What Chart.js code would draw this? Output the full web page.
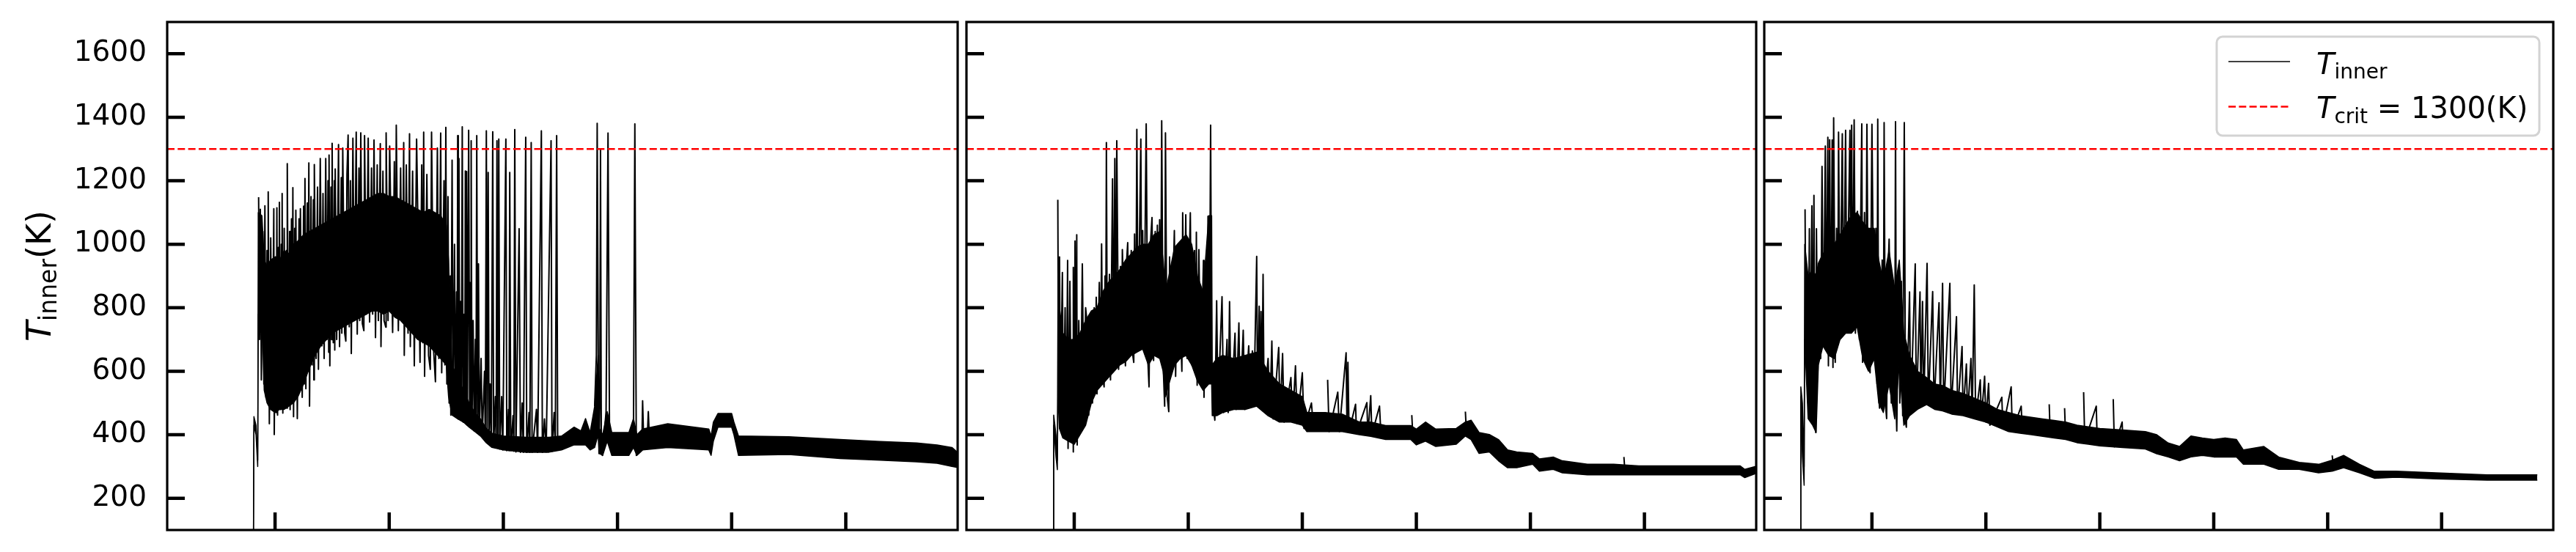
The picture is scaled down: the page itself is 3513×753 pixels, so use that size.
<!DOCTYPE html>
<html>
<head>
<meta charset="utf-8">
<script src="https://cdn.jsdelivr.net/npm/chart.js@4/dist/chart.umd.min.js"></script>
<style>
html, body { margin: 0; padding: 0; background: #fff; }
body { width: 3513px; height: 753px; position: relative; overflow: hidden; }
canvas { position: absolute; top: 0; }
</style>
</head>
<body>
<canvas id="c1" width="1316" height="753" style="left:0px"></canvas>
<canvas id="c2" width="1097" height="753" style="left:1308px"></canvas>
<canvas id="c3" width="1096" height="753" style="left:2396px"></canvas>
<script>
// axis setup
const yTicks = [200, 400, 600, 800, 1000, 1200, 1400, 1600]
const xTicks = [1, 2, 3, 4, 5, 6]
const yRange = [100, 1700]
const xRange = [0.055, 6.98]
const tCrit = 1300

// panel 1 : core band (dense black part) + trace extremes
const band1X = [0.811,0.815,0.833,0.848,0.853,0.885,0.905,0.93,0.96,1.0,1.04,1.08,1.12,1.16,1.2,1.25,1.3,1.35,1.4,1.45,1.5,1.55,1.6,1.65,1.7,1.75,1.8,1.85,1.9,1.95,2.0,2.05,2.1,2.15,2.2,2.25,2.3,2.35,2.4,2.45,2.5,2.52,2.55,2.6,2.65,2.7,2.75,2.8,2.85,2.9,3.0,3.2,3.4,3.51,3.62,3.68,3.72,3.76,3.8,3.83,3.84,3.87,3.91,3.95,4.1,4.14,4.17,4.22,4.44,4.8,4.82,4.84,4.88,5.0,5.02,5.06,5.5,5.95,6.3,6.62,6.8,6.93,6.99]
const band1Lo = [100,430,400,300,780,790,540,500,480,470,480,480,490,500,520,560,610,650,680,700,720,730,740,750,760,770,780,790,790,780,790,770,760,740,720,700,690,680,660,640,620,520,462,450,440,424,410,396,375,360,352,345,345,352,368,368,368,352,360,400,341,335,380,335,335,360,335,352,360,352,335,380,424,424,400,335,338,325,320,315,310,300,296]
const band1Hi = [100,457,430,320,1100,1090,950,930,950,960,950,980,970,1000,1010,1030,1040,1050,1060,1070,1080,1090,1100,1110,1120,1130,1140,1150,1160,1160,1150,1150,1140,1130,1120,1110,1100,1110,1100,1090,1060,950,620,580,540,500,470,450,420,405,396,392,392,396,424,412,451,407,490,650,420,400,473,407,407,451,400,418,435,418,396,440,467,467,440,396,394,385,379,374,368,360,341]
const trace1 = [
  [0.856,1148],[0.864,700],[0.871,1110],[0.880,573],[0.893,1040],[0.902,560],[0.911,1121],[0.920,518],[0.930,980],[0.936,600],
  [0.940,1165],[0.950,435],[0.962,1020],[0.975,480],[0.989,1112],[0.993,401],[1.004,960],[1.010,470],[1.016,1115],[1.022,462],
  [1.030,990],[1.034,500],[1.038,1132],[1.046,480],[1.055,1000],[1.058,520],[1.062,1160],[1.068,468],[1.080,1050],[1.090,500],
  [1.100,980],[1.103,484],[1.107,1254],[1.118,520],[1.128,1040],[1.132,479],[1.144,1080],[1.150,530],[1.156,1178],[1.162,457],
  [1.172,1050],[1.178,560],[1.182,1107],[1.195,451],[1.210,1080],[1.216,540],[1.222,1112],[1.238,518],[1.250,1120],[1.256,560],
  [1.262,1207],[1.270,545],[1.282,1130],[1.288,600],[1.296,1256],[1.302,490],[1.315,1150],[1.325,620],[1.336,1140],[1.340,573],
  [1.344,1251],[1.360,640],[1.372,1180],[1.380,606],[1.396,1270],[1.410,680],[1.420,1160],[1.430,640],[1.444,1270],[1.455,700],
  [1.464,1200],[1.470,660],[1.473,1281],[1.480,617],[1.490,1180],[1.495,700],[1.500,1318],[1.510,690],[1.520,1200],[1.523,667],
  [1.527,1237],[1.540,700],[1.556,1314],[1.565,678],[1.580,1210],[1.585,720],[1.593,1303],[1.610,720],[1.620,695],[1.630,1220],
  [1.640,1344],[1.650,740],[1.660,1200],[1.668,656],[1.682,1334],[1.695,760],[1.711,1353],[1.720,717],[1.735,1240],[1.742,760],
  [1.751,1351],[1.765,750],[1.778,728],[1.784,1342],[1.800,780],[1.816,1334],[1.828,755],[1.845,1240],[1.855,780],[1.867,1328],
  [1.880,706],[1.895,1250],[1.905,760],[1.922,1317],[1.928,678],[1.945,1230],[1.955,760],[1.970,739],[1.973,1351],[1.990,760],
  [2.004,1309],[2.030,722],[2.045,1260],[2.055,780],[2.062,1375],[2.080,728],[2.100,1240],[2.115,760],[2.127,1320],[2.132,650],
  [2.150,1250],[2.165,720],[2.178,1348],[2.185,678],[2.205,1230],[2.220,617],[2.240,1331],[2.270,628],[2.285,1250],[2.295,690],
  [2.302,1353],[2.310,584],[2.330,1220],[2.345,650],[2.360,606],[2.371,1353],[2.390,660],[2.405,567],[2.422,1303],[2.435,640],
  [2.451,1350],[2.460,595],[2.480,1200],[2.488,620],[2.496,1368],[2.505,560],[2.515,1150],[2.525,500],[2.535,900],[2.540,462],
  [2.551,1265],[2.560,470],[2.572,1000],[2.580,460],[2.590,850],[2.595,455],[2.600,1342],[2.605,450],[2.611,1270],[2.618,450],
  [2.625,820],[2.632,445],[2.640,1370],[2.648,440],[2.658,780],[2.662,440],[2.667,1231],[2.672,435],[2.678,1229],[2.685,430],
  [2.696,1359],[2.705,425],[2.712,880],[2.715,424],[2.718,1326],[2.725,420],[2.735,760],[2.745,412],[2.755,700],[2.760,410],
  [2.767,1342],[2.775,405],[2.782,938],[2.790,400],[2.805,640],[2.815,395],[2.835,600],[2.842,385],[2.851,1357],[2.858,380],
  [2.867,1226],[2.875,375],[2.884,560],[2.895,370],[2.907,1354],[2.915,365],[2.930,520],[2.937,360],[2.944,1326],[2.952,358],
  [2.960,1331],[2.968,355],[2.985,520],[2.995,352],[3.022,1331],[3.030,350],[3.045,480],[3.050,350],[3.056,1226],[3.065,350],
  [3.085,460],[3.092,348],[3.100,1361],[3.110,346],[3.138,1049],[3.150,345],[3.165,500],[3.175,345],[3.196,1337],[3.205,345],
  [3.225,470],[3.232,345],[3.244,1320],[3.252,345],[3.290,480],[3.300,345],[3.333,1357],[3.342,345],[3.360,450],[3.375,346],
  [3.418,1326],[3.426,348],[3.445,470],[3.455,350],[3.467,1342],[3.476,350],[3.800,490],[3.815,650],[3.822,1381],[3.832,600],
  [3.838,341],[3.845,500],[3.851,1298],[3.858,400],[3.868,335],[3.900,473],[3.917,1350],[3.930,400],[3.940,380],[4.140,420],
  [4.152,1379],[4.165,335],[4.215,400],[4.220,507],[4.228,400],[4.262,400],[4.270,473],[4.278,400]
]

// panel 2
const band2X = [0.816,0.82,0.84,0.852,0.858,0.87,0.9,0.95,1.0,1.05,1.1,1.15,1.2,1.25,1.3,1.35,1.4,1.45,1.5,1.55,1.6,1.65,1.7,1.75,1.78,1.8,1.83,1.88,1.93,1.98,2.03,2.08,2.13,2.18,2.205,2.21,2.25,2.3,2.4,2.5,2.6,2.7,2.8,2.9,3.0,3.04,3.2,3.35,3.5,3.6,3.73,3.95,4.0,4.08,4.17,4.35,4.43,4.48,4.55,4.64,4.72,4.8,4.88,5.02,5.08,5.2,5.28,5.5,5.73,5.95,6.4,6.84,6.88,6.99]
const band2Lo = [100,430,330,290,560,420,390,380,370,400,430,500,540,560,580,600,620,630,650,660,670,620,650,640,600,520,560,620,640,650,620,570,540,560,560,460,460,470,480,480,490,460,440,440,430,410,410,410,400,395,385,385,368,380,363,370,396,385,341,346,318,296,296,307,285,291,280,274,274,274,274,274,265,280]
const band2Hi = [100,462,400,320,900,800,720,700,700,720,760,790,800,850,880,900,920,950,970,990,1000,1000,1030,1040,950,850,900,990,1010,1030,1000,900,850,1090,1090,620,640,650,640,650,660,600,560,540,520,470,470,465,440,440,429,429,418,440,418,420,440,446,407,401,385,352,346,341,324,330,318,307,307,302,302,302,291,302]
const trace2 = [
  [0.856,1140],[0.862,600],[0.871,960],[0.878,450],[0.896,911],[0.905,420],[0.920,800],[0.930,400],[0.942,949],[0.946,357],
  [0.962,883],[0.975,380],[0.989,700],[0.991,346],[0.993,927],[1.000,400],[1.007,1010],[1.015,420],[1.022,1030],[1.026,368],
  [1.040,760],[1.055,420],[1.071,938],[1.085,450],[1.100,800],[1.116,739],[1.127,462],[1.145,780],[1.160,500],[1.175,800],
  [1.185,530],[1.193,833],[1.200,529],[1.220,880],[1.230,560],[1.240,1001],[1.250,580],[1.262,551],[1.270,900],[1.276,600],
  [1.282,1320],[1.290,600],[1.309,905],[1.318,573],[1.336,1206],[1.346,620],[1.356,1270],[1.364,620],[1.373,1326],[1.389,606],
  [1.405,930],[1.415,640],[1.422,983],[1.449,617],[1.460,950],[1.469,1005],[1.480,650],[1.500,980],[1.510,660],[1.522,628],
  [1.529,1032],[1.540,680],[1.549,1362],[1.560,680],[1.584,1331],[1.592,690],[1.600,1043],[1.612,680],[1.631,1379],[1.645,640],
  [1.656,551],[1.668,1000],[1.682,1084],[1.696,634],[1.710,1040],[1.718,660],[1.729,1060],[1.738,660],[1.749,1077],[1.758,650],
  [1.767,1389],[1.780,620],[1.793,490],[1.800,1351],[1.815,520],[1.829,473],[1.836,960],[1.850,600],[1.878,1043],[1.889,584],
  [1.910,1000],[1.944,600],[1.951,1099],[1.965,650],[1.978,1093],[1.990,640],[2.018,1099],[2.030,620],[2.055,980],[2.065,600],
  [2.071,1038],[2.078,556],[2.093,983],[2.110,560],[2.133,949],[2.138,518],[2.155,900],[2.165,560],[2.173,1088],[2.185,600],
  [2.196,1375],[2.205,620],[2.215,500],[2.233,446],[2.249,822],[2.260,480],[2.296,835],[2.310,470],[2.340,700],[2.350,470],
  [2.362,819],[2.375,480],[2.410,720],[2.420,480],[2.444,752],[2.455,485],[2.482,729],[2.495,480],[2.530,680],[2.545,490],
  [2.562,664],[2.575,490],[2.600,962],[2.608,490],[2.622,805],[2.630,495],[2.638,788],[2.645,495],[2.656,905],[2.665,490],
  [2.700,640],[2.715,460],[2.733,695],[2.745,450],[2.793,675],[2.805,445],[2.827,656],[2.840,440],[2.900,580],[2.915,440],
  [2.940,617],[2.955,435],[3.000,595],[3.015,420],[3.080,500],[3.100,410],[3.222,573],[3.235,410],[3.311,534],[3.325,410],
  [3.384,658],[3.392,410],[3.400,628],[3.410,410],[3.467,496],[3.475,405],[3.566,501],[3.575,400],[3.600,523],[3.610,400],
  [3.677,490],[3.690,395],[3.960,462],[3.970,390],[4.430,473],[4.440,400],[5.820,330],[5.830,280]
]

// panel 3
const band3X = [0.373,0.376,0.39,0.405,0.41,0.44,0.48,0.51,0.53,0.57,0.62,0.67,0.72,0.77,0.82,0.87,0.92,0.97,1.02,1.06,1.1,1.15,1.2,1.24,1.28,1.33,1.4,1.48,1.55,1.62,1.7,1.8,1.9,2.0,2.1,2.2,2.3,2.4,2.5,2.6,2.7,2.8,2.9,3.0,3.2,3.4,3.5,3.6,3.7,3.8,3.9,4.0,4.1,4.2,4.26,4.44,4.57,4.75,4.92,5.04,5.14,5.28,5.41,5.6,5.95,6.4,6.84]
const band3Lo = [100,520,330,241,700,451,430,407,620,680,650,640,700,720,720,740,640,600,640,500,470,560,450,620,430,460,480,495,480,475,465,460,450,440,425,410,405,400,395,390,385,375,370,365,360,355,340,330,318,330,335,330,330,330,307,307,291,291,280,285,296,280,263,266,261,257,257]
const band3Hi = [100,551,500,300,1000,900,920,900,940,970,990,1000,1030,1060,1090,1100,1070,1050,1050,950,880,980,860,950,720,650,600,580,560,555,540,530,515,500,480,470,460,455,450,445,440,430,425,420,415,410,400,374,363,396,390,385,390,385,352,363,330,313,307,320,335,307,285,285,280,274,274]
const trace3 = [
  [0.413,1110],[0.420,700],[0.430,900],[0.440,500],[0.451,1049],[0.455,457],[0.473,1121],[0.480,500],[0.491,1154],[0.500,450],
  [0.507,407],[0.513,1049],[0.525,600],[0.540,900],[0.550,640],[0.562,1245],[0.575,680],[0.591,1309],[0.600,700],[0.613,1337],
  [0.618,617],[0.629,1329],[0.640,660],[0.651,1328],[0.658,612],[0.664,1398],[0.678,628],[0.690,1050],[0.700,700],[0.707,1353],
  [0.720,720],[0.740,1348],[0.750,740],[0.769,1359],[0.780,730],[0.807,1359],[0.815,750],[0.822,1375],[0.830,730],[0.844,1392],
  [0.855,720],[0.873,1104],[0.890,700],[0.911,1379],[0.918,628],[0.935,1100],[0.945,650],[0.956,1378],[0.970,620],[0.984,595],
  [1.000,1378],[1.018,662],[1.035,1050],[1.045,560],[1.051,1394],[1.060,520],[1.067,484],[1.090,950],[1.100,500],[1.107,1383],
  [1.118,500],[1.129,451],[1.140,900],[1.151,1016],[1.170,500],[1.190,800],[1.200,460],[1.207,1386],[1.215,450],[1.218,412],
  [1.235,900],[1.245,500],[1.258,883],[1.270,460],[1.284,1383],[1.295,440],[1.302,424],[1.330,850],[1.340,470],[1.380,938],
  [1.390,480],[1.422,850],[1.430,490],[1.444,820],[1.455,495],[1.484,940],[1.495,495],[1.533,851],[1.545,490],[1.589,816],
  [1.600,485],[1.620,877],[1.630,480],[1.684,877],[1.695,475],[1.742,772],[1.752,470],[1.791,678],[1.800,465],[1.829,623],
  [1.840,460],[1.869,640],[1.880,455],[1.898,872],[1.910,452],[1.951,573],[1.960,448],[1.989,584],[2.000,440],[2.024,562],
  [2.035,430],[2.140,518],[2.150,420],[2.222,551],[2.232,410],[2.310,490],[2.320,405],[2.556,496],[2.565,395],[2.691,484],
  [2.700,390],[2.858,534],[2.868,380],[2.969,490],[2.978,370],[3.118,512],[3.128,362],[3.196,440],[3.205,360],[5.040,335],[5.050,290]
]

// break the trace where two read points are far apart, so no long stray segment is drawn
function tracePoints(trace) {
  const out = []
  trace.forEach((p, i) => {
    if (i > 0 && p[0] - trace[i - 1][0] > 0.12) out.push({ x: (p[0] + trace[i - 1][0]) / 2, y: null })
    out.push({ x: p[0], y: p[1] })
  })
  return out
}

function buildDatasets(bandX, bandLo, bandHi, trace) {
  return [
    { data: [{ x: xRange[0], y: tCrit }, { x: xRange[1], y: tCrit }], borderColor: '#ff0000', borderWidth: 2.7, borderDash: [10, 4.3], pointRadius: 0, fill: false },
    { data: tracePoints(trace), borderColor: '#000', borderWidth: 2, pointRadius: 0, fill: false, spanGaps: false },
    { data: bandX.map((x, i) => ({ x: x, y: bandHi[i] })), borderColor: '#000', borderWidth: 1.5, backgroundColor: '#000', pointRadius: 0, fill: '+1' },
    { data: bandX.map((x, i) => ({ x: x, y: bandLo[i] })), borderColor: '#000', borderWidth: 1.5, pointRadius: 0, fill: false }
  ]
}

// frame + inward ticks like the matplotlib axes
const framePlugin = {
  id: 'frame',
  afterDatasetsDraw(chart) {
    const ctx = chart.ctx
    const a = chart.chartArea
    const sx = chart.scales.x, sy = chart.scales.y
    ctx.save()
    ctx.strokeStyle = '#000'
    ctx.lineWidth = 4.5
    ctx.beginPath()
    yTicks.forEach(v => {
      const y = sy.getPixelForValue(v)
      ctx.moveTo(a.left, y); ctx.lineTo(a.left + 24, y)
    })
    xTicks.forEach(v => {
      const x = sx.getPixelForValue(v)
      ctx.moveTo(x, a.bottom); ctx.lineTo(x, a.bottom - 24)
    })
    ctx.stroke()
    ctx.lineWidth = 3.2
    ctx.strokeRect(a.left, a.top, a.right - a.left, a.bottom - a.top)
    ctx.restore()
  }
}

function drawRich(ctx, parts, x, y) {
  let cx = x
  parts.forEach(p => {
    ctx.font = p.font
    ctx.fillText(p.text, cx, y + (p.dy || 0))
    cx += ctx.measureText(p.text).width
  })
}
function richWidth(ctx, parts) {
  let w = 0
  parts.forEach(p => { ctx.font = p.font; w += ctx.measureText(p.text).width })
  return w
}

const FONT = '"DejaVu Sans", sans-serif'

const ylabelPlugin = {
  id: 'ylabel',
  afterDraw(chart) {
    const ctx = chart.ctx
    const a = chart.chartArea
    const parts = [
      { text: 'T', font: 'italic 46px ' + FONT },
      { text: 'inner', font: '33px ' + FONT, dy: 8 },
      { text: '(K)', font: '46px ' + FONT }
    ]
    ctx.save()
    ctx.fillStyle = '#000'
    ctx.textBaseline = 'alphabetic'
    ctx.translate(69, (a.top + a.bottom) / 2)
    ctx.rotate(-Math.PI / 2)
    drawRich(ctx, parts, -richWidth(ctx, parts) / 2, 0)
    ctx.restore()
  }
}

const legendPlugin = {
  id: 'legendBox',
  afterDraw(chart) {
    const ctx = chart.ctx
    const a = chart.chartArea
    const w = 440, h = 135
    const left = a.right - 19 - w, top = a.top + 20
    ctx.save()
    ctx.fillStyle = 'rgba(255,255,255,0.85)'
    ctx.strokeStyle = '#d3d3d3'
    ctx.lineWidth = 3
    ctx.beginPath()
    ctx.roundRect(left, top, w, h, 8)
    ctx.fill()
    ctx.stroke()
    // samples
    ctx.strokeStyle = '#000'
    ctx.lineWidth = 1.3
    ctx.beginPath(); ctx.moveTo(left + 16, top + 34); ctx.lineTo(left + 100, top + 34); ctx.stroke()
    ctx.strokeStyle = '#ff0000'
    ctx.lineWidth = 2.7
    ctx.setLineDash([10, 4.3])
    ctx.beginPath(); ctx.moveTo(left + 16, top + 95.5); ctx.lineTo(left + 100, top + 95.5); ctx.stroke()
    ctx.setLineDash([])
    ctx.fillStyle = '#000'
    ctx.textBaseline = 'alphabetic'
    drawRich(ctx, [
      { text: 'T', font: 'italic 40px ' + FONT },
      { text: 'inner', font: '28px ' + FONT, dy: 6 }
    ], left + 136, top + 51)
    drawRich(ctx, [
      { text: 'T', font: 'italic 40px ' + FONT },
      { text: 'crit', font: '28px ' + FONT, dy: 7 },
      { text: ' = 1300(K)', font: '40px ' + FONT }
    ], left + 136, top + 111)
    ctx.restore()
  }
}

function makeChart(id, datasets, padLeft, showLabels, extra) {
  return new Chart(document.getElementById(id), {
    type: 'line',
    data: { datasets: datasets },
    plugins: [framePlugin].concat(extra),
    options: {
      responsive: false,
      animation: false,
      devicePixelRatio: 1,
      events: [],
      layout: { padding: { left: padLeft, right: 10, top: 30, bottom: 30 } },
      plugins: { legend: { display: false }, tooltip: { enabled: false } },
      elements: { line: { tension: 0, borderJoinStyle: 'round' } },
      scales: {
        x: { type: 'linear', min: xRange[0], max: xRange[1], display: false },
        y: {
          type: 'linear', min: yRange[0], max: yRange[1], display: showLabels,
          afterBuildTicks: s => { s.ticks = yTicks.map(v => ({ value: v })) },
          afterFit: s => { s.width = showLabels ? 228 : 0; s.paddingTop = 0; s.paddingBottom = 0 },
          grid: { display: false, drawTicks: false },
          border: { display: false },
          ticks: { padding: 28, color: '#000', font: { family: 'DejaVu Sans', size: 39 }, callback: v => String(v) }
        }
      }
    }
  })
}

makeChart('c1', buildDatasets(band1X, band1Lo, band1Hi, trace1), 0, true, [ylabelPlugin])
makeChart('c2', buildDatasets(band2X, band2Lo, band2Hi, trace2), 10, false, [])
makeChart('c3', buildDatasets(band3X, band3Lo, band3Hi, trace3), 10, false, [legendPlugin])
</script>
</body>
</html>
